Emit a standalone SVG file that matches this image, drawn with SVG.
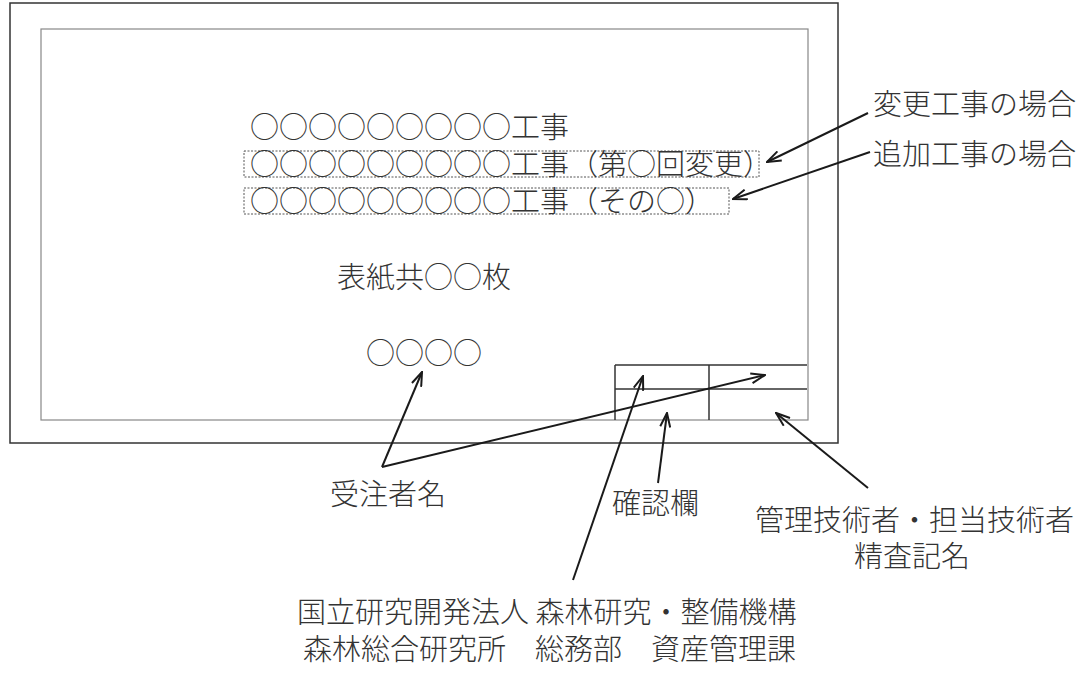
<svg xmlns="http://www.w3.org/2000/svg" width="1088" height="674" viewBox="0 0 1088 674">
<defs>
<style>
.t{font-family:"Noto Sans CJK JP","Liberation Sans",sans-serif;font-size:29px;fill:#333;font-weight:300}
.frame{fill:none;stroke:#333;stroke-width:1.5}
.inner{fill:none;stroke:#888;stroke-width:1.2}
.tab{stroke:#333;stroke-width:1.5}
.dash{fill:none;stroke:#555;stroke-width:1;stroke-dasharray:2 1.5}
.arr{fill:none;stroke:#1a1a1a;stroke-width:2;marker-end:url(#ah)}
</style>
<marker id="ah" viewBox="0 0 16 12" refX="15" refY="6" markerWidth="16" markerHeight="12" markerUnits="userSpaceOnUse" orient="auto">
<path d="M1,1 L15,6 L1,11" fill="none" stroke="#1a1a1a" stroke-width="2"/>
</marker>
</defs>
<rect id="sheet" class="frame" x="10" y="3" width="828" height="440"/>
<rect id="page" class="inner" x="41" y="29" width="767" height="391"/>
<g id="check-table">
<line class="tab" x1="615" y1="365" x2="807" y2="365"/>
<line class="tab" x1="615" y1="389" x2="807" y2="389"/>
<line class="tab" x1="615" y1="365" x2="615" y2="420"/>
<line class="tab" x1="709" y1="365" x2="709" y2="420"/>
</g>
<g id="title1"><text class="t" x="250" y="138">○○○○○○○○○工事</text></g>
<g id="title2"><rect class="dash" x="244" y="151" width="515" height="26"/><text class="t" x="250" y="174.5">○○○○○○○○○工事（第○回変更）</text></g>
<g id="title3"><rect class="dash" x="244" y="188" width="485" height="26"/><text class="t" x="250" y="211.5">○○○○○○○○○工事（その○）</text></g>
<g id="label-henko"><text class="t" x="873" y="115">変更工事の場合</text></g>
<g id="label-tsuika"><text class="t" x="873" y="165">追加工事の場合</text></g>
<g id="pages"><text class="t" x="337" y="288">表紙共○○枚</text></g>
<g id="contractor"><text class="t" x="366" y="364">○○○○</text></g>
<g id="label-jutyu"><text class="t" x="330" y="505">受注者名</text></g>
<g id="label-kakunin"><text class="t" x="612" y="514">確認欄</text></g>
<g id="label-kanri"><text class="t" x="755" y="531">管理技術者・担当技術者</text><text class="t" x="854" y="567">精査記名</text></g>
<g id="label-org"><text class="t" x="297" y="623">国立研究開発法人 森林研究・整備機構</text><text class="t" x="303" y="660">森林総合研究所　総務部　資産管理課</text></g>
<g id="connectors">
<line class="arr" x1="868" y1="113" x2="767" y2="162"/>
<line class="arr" x1="870" y1="152" x2="733" y2="199"/>
<line class="arr" x1="382" y1="467" x2="422" y2="372"/>
<line class="arr" x1="382" y1="467" x2="765" y2="375"/>
<line class="arr" x1="573" y1="580" x2="643" y2="376"/>
<line class="arr" x1="658" y1="483" x2="667" y2="413"/>
<line class="arr" x1="868" y1="488" x2="776" y2="413"/>
</g>
</svg>
